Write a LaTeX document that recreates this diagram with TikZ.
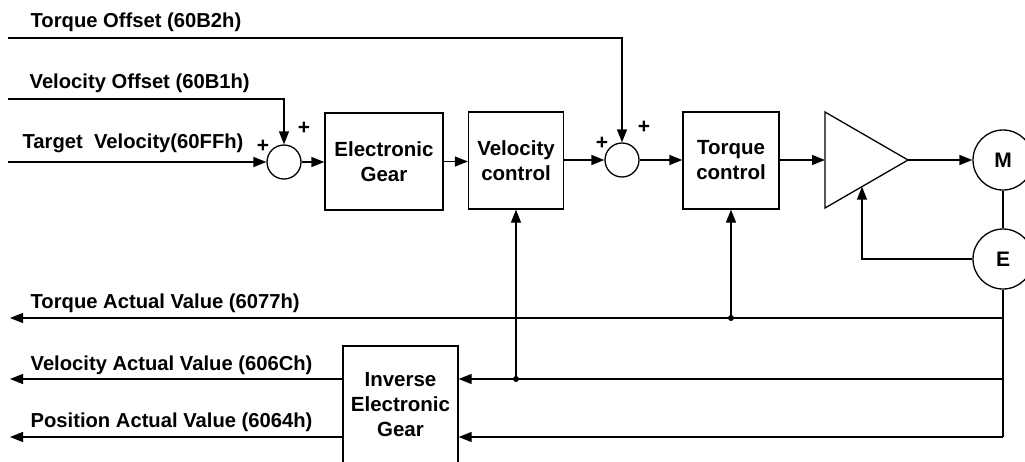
\documentclass[tikz,border=0pt]{standalone}
\usepackage{fontspec}
\setmainfont{Liberation Sans}
\usetikzlibrary{arrows.meta}
\begin{document}
\begin{tikzpicture}[x=1pt,y=-1pt,
  line width=1.3pt,
  >={Triangle[length=13pt,width=10pt]},
  lbl/.style={font=\fontsize{20.2}{24}\selectfont\bfseries, anchor=base west, inner sep=0pt},
  blk/.style={draw, minimum height=97pt, align=center, inner sep=0pt,
    font=\fontsize{20.5}{25}\selectfont\bfseries},
  sumj/.style={draw, circle, minimum size=34pt, inner sep=0pt},
  mot/.style={draw, circle, minimum size=60pt, inner sep=0pt,
    font=\fontsize{21}{24}\selectfont\bfseries},
  pm/.style={font=\fontsize{21}{21}\selectfont\bfseries, inner sep=0pt},
  dot/.style={circle, fill, inner sep=0pt, minimum size=6pt}
]
\useasboundingbox (0,0) rectangle (1025,461);

% labels
\node[lbl] (lto) at (30,27) {Torque Offset (60B2h)};
\node[lbl] (lvo) at (29,88) {Velocity Offset (60B1h)};
\node[lbl] (ltv) at (22,148) {Target\ \ Velocity(60FFh)};
\node[lbl] (lta) at (30,308) {Torque Actual Value (6077h)};
\node[lbl] (lva) at (30,370) {Velocity Actual Value (606Ch)};
\node[lbl] (lpa) at (30,427) {Position Actual Value (6064h)};

% blocks
\node[sumj] (s1) at (284,162) {};
\node[blk, minimum width=118pt] (eg) at (384,161.5) {Electronic\\Gear};
\node[blk, minimum width=95pt] (vc) at (516,160.5) {Velocity\\control};
\node[sumj] (s2) at (622,160) {};
\node[blk, minimum width=96pt] (tc) at (731,160.5) {Torque\\control};
\node[blk, minimum width=115pt, minimum height=118pt] (ieg) at (400.5,405) {Inverse\\Electronic\\Gear};
\node[mot] (m) at (1003,160) {M};
\node[mot] (e) at (1003,259) {E};

% amplifier
\coordinate (ampin) at (825,160);
\coordinate (ampout) at (908,160);
\coordinate (ampfb) at (862,186.6);
\draw[line join=miter] (825,112) -- (ampout) -- (825,208) -- cycle;

% plus signs
\node[pm] (p1) at (263,146) {+};
\node[pm] (p2) at (304,128) {+};
\node[pm] (p3) at (602,143) {+};
\node[pm] (p4) at (644,127) {+};

% inputs
\coordinate (to0) at (8,38);
\coordinate (vo0) at (8,99);
\coordinate (tv0) at (8,162);
\draw[->] (to0) -| (s2.north);
\draw[->] (vo0) -| (s1.north);
\draw[->] (tv0) -- (s1.west);

% forward path
\draw[->] (s1.east) -- (eg.west |- s1.east);
\draw[->] (eg.east) -- (vc.west |- eg.east);
\draw[->] (vc.east |- s2.west) -- (s2.west);
\draw[->] (s2.east) -- (tc.west |- s2.east);
\draw[->] (tc.east |- ampin) -- (ampin);
\draw[->] (ampout) -- (m.west);
\draw (m.south) -- (e.north);
\draw[->] (e.west) -| (ampfb);

% feedback lines
\coordinate (br) at (1003,437);
\coordinate (ta1) at (1003,318);
\coordinate (ta0) at (10,318);
\coordinate (va1) at (1003,379);
\coordinate (va0) at (10,379);
\coordinate (pa0) at (10,437);
\draw (e.south) -- (br);
\draw[->] (ta1) -- (ta0);
\coordinate (tdot) at (tc.south |- ta1);
\node[dot] (td) at (tdot) {};
\draw[->] (tdot) -- (tc.south);

\draw[->] (va1) -- (ieg.east |- va1);
\coordinate (vdot) at (vc.south |- va1);
\node[dot] (vd) at (vdot) {};
\draw[->] (vdot) -- (vc.south);
\draw[->] (ieg.west |- va1) -- (va0);

\draw[->] (br) -- (ieg.east |- br);
\draw[->] (ieg.west |- br) -- (pa0);
\end{tikzpicture}
\end{document}
